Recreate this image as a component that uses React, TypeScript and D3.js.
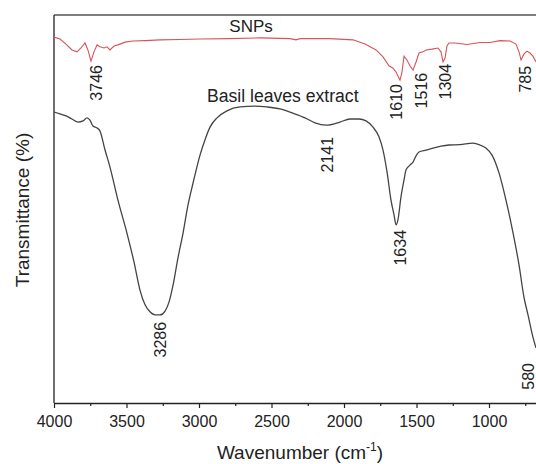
import React, { useEffect, useRef } from "react";
import * as d3 from "d3";

// SNPs (red) spectrum: wavenumber (cm-1) and transmittance (arb. %)
const WN_SNP = [4000, 3959, 3917, 3876, 3841, 3814, 3786, 3766, 3745, 3724, 3703, 3683, 3655, 3634, 3614, 3586, 3559, 3510, 3455, 3372, 3269, 3131, 2993, 2786, 2579, 2372, 2331, 2303, 2097, 1938, 1855, 1779, 1731, 1690, 1662, 1641, 1614, 1600, 1586, 1566, 1545, 1524, 1503, 1483, 1455, 1434, 1393, 1352, 1331, 1317, 1303, 1290, 1276, 1234, 1152, 1062, 993, 924, 855, 814, 793, 779, 759, 738, 717, 697, 676];
const T_SNP = [94.3, 93.8, 92.5, 91.0, 90.5, 91.5, 92.8, 91.0, 88.1, 90.5, 92.3, 91.8, 91.5, 91.8, 91.0, 92.0, 92.3, 93.0, 93.3, 93.4, 93.6, 93.7, 93.8, 93.9, 94.1, 93.9, 93.6, 93.9, 93.9, 93.6, 92.5, 91.0, 89.2, 86.9, 86.3, 85.3, 83.2, 85.3, 89.4, 88.4, 86.9, 85.8, 87.9, 90.2, 90.5, 91.0, 91.2, 91.5, 90.5, 87.9, 88.9, 92.0, 92.8, 92.8, 92.4, 92.9, 92.9, 93.4, 93.3, 92.5, 90.5, 88.4, 89.9, 90.7, 90.2, 89.4, 87.9];

// Basil leaves extract (black) spectrum
const WN_BASIL = [4000, 3959, 3917, 3876, 3834, 3800, 3772, 3752, 3731, 3703, 3683, 3648, 3614, 3559, 3497, 3448, 3407, 3372, 3338, 3303, 3269, 3234, 3207, 3179, 3145, 3110, 3076, 3041, 2993, 2959, 2924, 2876, 2807, 2717, 2614, 2531, 2441, 2352, 2269, 2200, 2124, 2028, 1959, 1897, 1848, 1800, 1759, 1731, 1703, 1676, 1655, 1641, 1628, 1607, 1586, 1572, 1545, 1524, 1503, 1483, 1434, 1386, 1331, 1276, 1200, 1110, 1062, 1021, 979, 931, 883, 834, 793, 759, 731, 697, 676];
const T_BASIL = [75.0, 74.5, 74.0, 73.2, 72.4, 72.7, 73.5, 72.9, 71.4, 70.9, 70.1, 65.2, 60.8, 52.3, 43.8, 36.3, 29.1, 25.3, 23.5, 22.7, 22.7, 23.7, 26.0, 30.4, 37.4, 43.8, 51.0, 56.7, 63.9, 67.8, 71.1, 73.5, 75.3, 76.3, 76.5, 76.3, 75.8, 74.7, 73.5, 72.2, 71.6, 72.4, 73.2, 73.2, 72.7, 71.1, 68.6, 65.2, 59.5, 52.3, 48.5, 45.9, 47.2, 53.1, 57.5, 60.1, 61.3, 62.1, 63.7, 64.7, 65.2, 65.7, 66.2, 66.5, 66.6, 67.0, 66.5, 65.7, 63.9, 59.3, 52.3, 43.8, 35.6, 27.3, 22.7, 17.0, 14.2];

// Peak annotations: text, position wavenumber, top of label (transmittance)
const PEAK_TEXT = ["3746", "1610", "1516", "1304", "785", "2141", "1634", "3286", "580"];
const PEAK_WN = [3710, 1641, 1469, 1303, 752, 2117, 1614, 3269, 731];
const PEAK_T = [87.1, 82.2, 85.1, 87.4, 86.9, 68.6, 44.6, 20.9, 10.3];

const X_TICKS = [4000, 3500, 3000, 2500, 2000, 1500, 1000];
const X_MINOR = [3750, 3250, 2750, 2250, 1750, 1250, 750];

const W = 536;
const H = 464;
const FONT = "'Liberation Sans', Arial, Helvetica, sans-serif";

export default function App() {
  const ref = useRef<SVGSVGElement>(null);

  useEffect(() => {
    const svg = d3.select(ref.current);
    svg.selectAll("*").remove();

    const left = 54, top = 15, bottom = 403;
    const x = d3.scaleLinear().domain([4000, 500]).range([left, left + 3500 * 0.145]);
    const y = d3.scaleLinear().domain([0, 100]).range([bottom, top]);

    const g = svg.append("g");

    // frame lines
    g.append("line").attr("x1", left).attr("x2", W).attr("y1", top).attr("y2", top)
      .attr("stroke", "#555").attr("stroke-width", 1.5);
    g.append("line").attr("x1", left).attr("x2", left).attr("y1", top).attr("y2", bottom)
      .attr("stroke", "#222").attr("stroke-width", 1.3);

    // bottom axis
    const ax = g.append("g").attr("transform", `translate(0,${bottom})`)
      .call(d3.axisBottom(x).tickValues(X_TICKS).tickSize(5).tickSizeOuter(0).tickPadding(8).tickFormat(d3.format("d")));
    ax.select(".domain").attr("stroke", "#222").attr("stroke-width", 1.3);
    ax.selectAll(".tick line").attr("stroke", "#222").attr("stroke-width", 1.2);
    ax.selectAll(".tick text").attr("font-family", FONT).attr("font-size", 16).attr("fill", "#222");

    const axm = g.append("g").attr("transform", `translate(0,${bottom})`)
      .call(d3.axisBottom(x).tickValues(X_MINOR).tickSize(3).tickSizeOuter(0).tickFormat(() => ""));
    axm.select(".domain").remove();
    axm.selectAll(".tick line").attr("stroke", "#222").attr("stroke-width", 1.2);

    // lines
    const lineSnp = d3.line<number>().x((d, i) => x(WN_SNP[i])).y((d) => y(d)).curve(d3.curveLinear);
    g.append("path").attr("d", lineSnp(T_SNP) as string).attr("fill", "none")
      .attr("stroke", "#d9535a").attr("stroke-width", 1.1);

    const lineBasil = d3.line<number>().x((d, i) => x(WN_BASIL[i])).y((d) => y(d)).curve(d3.curveMonotoneX);
    g.append("path").attr("d", lineBasil(T_BASIL) as string).attr("fill", "none")
      .attr("stroke", "#444").attr("stroke-width", 1.3);

    // series labels
    g.append("text").attr("x", x(2641)).attr("y", y(95.7)).attr("text-anchor", "middle")
      .attr("font-family", FONT).attr("font-size", 17).attr("fill", "#222").text("SNPs");
    g.append("text").attr("x", x(2945)).attr("y", y(77.7)).attr("text-anchor", "start")
      .attr("font-family", FONT).attr("font-size", 17.6).attr("fill", "#222").text("Basil leaves extract");

    // peak labels
    PEAK_TEXT.forEach((t, i) => {
      g.append("text")
        .attr("transform", `translate(${x(PEAK_WN[i])},${y(PEAK_T[i])}) rotate(-90)`)
        .attr("text-anchor", "end").attr("dy", "0.36em")
        .attr("font-family", FONT).attr("font-size", 16).attr("fill", "#222").text(t);
    });

    // axis titles
    const xt = g.append("text").attr("x", 300).attr("y", 459).attr("text-anchor", "middle")
      .attr("font-family", FONT).attr("font-size", 19).attr("fill", "#222");
    xt.append("tspan").text("Wavenumber (cm");
    xt.append("tspan").attr("font-size", 12).attr("dy", -8).text("-1");
    xt.append("tspan").attr("dy", 8).text(")");

    g.append("text").attr("transform", `translate(29,210) rotate(-90)`).attr("text-anchor", "middle")
      .attr("font-family", FONT).attr("font-size", 19).attr("fill", "#222").text("Transmittance (%)");
  }, []);

  return (
    <svg ref={ref} width={W} height={H} style={{ position: "absolute", left: 0, top: 0, display: "block", background: "#fff" }} />
  );
}
